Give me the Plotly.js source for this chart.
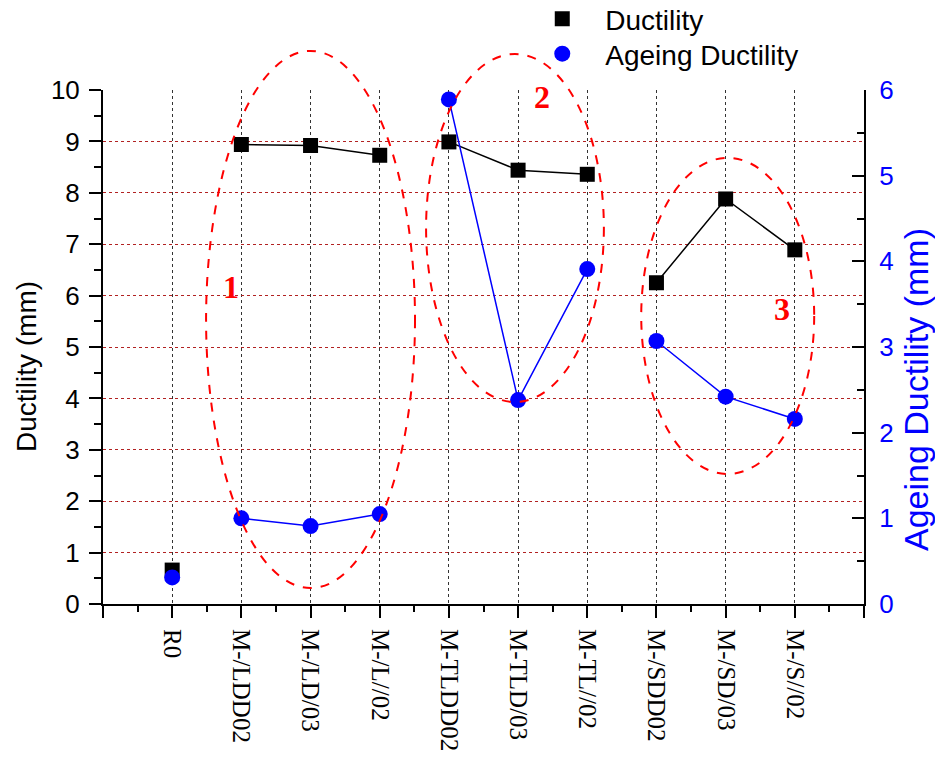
<!DOCTYPE html>
<html>
<head>
<meta charset="utf-8">
<script src="https://cdn.plot.ly/plotly-3.0.1.min.js"></script>
<style>html,body{margin:0;padding:0;background:#fff;} #chart{width:935px;height:757px;}</style>
</head>
<body>
<div id="chart"></div>
<script>
// ---- data ----
const categories = ['R0','M-/LDD02','M-/LD/03','M-/L//02','M-TLDD02','M-TLD/03','M-TL//02','M-/SDD02','M-/SD/03','M-/S//02'];
const groups = [0, 1, 1, 1, 2, 2, 2, 3, 3, 3];   // points joined by a line only inside the same group
const ductility = [0.66, 8.94, 8.92, 8.73, 8.99, 8.44, 8.36, 6.25, 7.88, 6.89];
const ageingDuctility = [0.31, 1.00, 0.91, 1.05, 5.89, 2.38, 3.91, 3.07, 2.42, 2.16];
const seriesNames = ['Ductility', 'Ageing Ductility'];
const leftTitle = 'Ductility (mm)';
const rightTitle = 'Ageing Ductility (mm)';
const leftTicks = [0,1,2,3,4,5,6,7,8,9,10];
const rightTicks = [0,1,2,3,4,5,6];
const leftRange = [0, 10];
const rightRange = [0, 6];
// group ellipses (x in category index units, y in Ductility units)
const groupLabels = ['1', '2', '3'];
const groupLabelPos = [[0.85, 6.17], [5.34, 9.87], [8.81, 5.74]];
const groupEllipses = [[0.49, 3.51, 0.31, 10.76], [3.67, 6.24, 3.93, 10.70], [6.78, 9.28, 2.53, 8.68]];

const xIdx = categories.map((c, i) => i);
const xTickVals = [-1].concat(xIdx, [categories.length]);
const xTickText = [''].concat(categories, ['']);

// insert a gap (null) wherever the group changes
function withBreaks(vals) {
  const xs = [], ys = [];
  vals.forEach((v, i) => {
    if (i > 0 && groups[i] !== groups[i - 1]) { xs.push(null); ys.push(null); }
    xs.push(xIdx[i]); ys.push(v);
  });
  return {x: xs, y: ys};
}
// trailing non-breaking spaces nudge a centred axis title along its axis
const pad = n => '&nbsp;'.repeat(n);

const sans = 'Liberation Sans, Arial, sans-serif';
const serif = 'Liberation Serif, Times New Roman, serif';

const dLine = withBreaks(ductility);
const aLine = withBreaks(ageingDuctility);

const traces = [
  {x: dLine.x, y: dLine.y, type: 'scatter', mode: 'lines', connectgaps: false,
   line: {color: '#000000', width: 1.5}, showlegend: false, yaxis: 'y'},
  {x: xIdx, y: ductility, name: seriesNames[0], type: 'scatter', mode: 'markers',
   marker: {symbol: 'square', size: 15, color: '#000000'}, yaxis: 'y', legend: 'legend'},
  {x: aLine.x, y: aLine.y, type: 'scatter', mode: 'lines', connectgaps: false,
   line: {color: '#0000ff', width: 1.5}, showlegend: false, yaxis: 'y2'},
  {x: xIdx, y: ageingDuctility, name: seriesNames[1], type: 'scatter', mode: 'markers',
   marker: {symbol: 'circle', size: 16, color: '#0000ff'}, yaxis: 'y2', legend: 'legend2'}
];

const shapes = groupEllipses.map(e => ({
  type: 'circle', xref: 'x', yref: 'paper',
  x0: e[0], x1: e[1], y0: e[2] / leftRange[1], y1: e[3] / leftRange[1],
  line: {color: '#ff0000', width: 2, dash: 'dash'},
  fillcolor: 'rgba(0,0,0,0)', layer: 'above'
}));

const annotations = groupLabels.map((t, i) => ({
  x: groupLabelPos[i][0], y: groupLabelPos[i][1], xref: 'x', yref: 'y',
  text: '<b>' + t + '</b>', showarrow: false,
  font: {family: serif, size: 32, color: '#ff0000'}
}));

const legendBase = {
  xanchor: 'left', yanchor: 'middle',
  font: {family: sans, size: 28, color: '#000'},
  bgcolor: 'rgba(0,0,0,0)', borderwidth: 0, itemwidth: 76
};

const layout = {
  width: 935, height: 757,
  margin: {l: 103, r: 71, t: 90, b: 153, pad: 0, autoexpand: false},
  paper_bgcolor: '#ffffff', plot_bgcolor: '#ffffff',
  showlegend: true,
  legend: Object.assign({}, legendBase, {x: 0.547, y: (604 - 19) / 514}),
  legend2: Object.assign({}, legendBase, {x: 0.547, y: (604 - 54) / 514}),
  xaxis: {
    range: [-1, categories.length],
    tickmode: 'array', tickvals: xTickVals, ticktext: xTickText,
    tickangle: 90,
    tickfont: {family: serif, size: 25, color: '#000'},
    ticks: 'outside', ticklen: 12, tickwidth: 2, tickcolor: '#000',
    ticklabelstandoff: 6,
    minor: {tickmode: 'linear', tick0: -0.5, dtick: 1, ticks: 'outside', ticklen: 6, tickwidth: 2, tickcolor: '#000', showgrid: false},
    showline: true, linecolor: '#000', linewidth: 2,
    showgrid: true, gridcolor: '#333333', griddash: 'dot', gridwidth: 1,
    zeroline: false, fixedrange: true
  },
  yaxis: {
    range: leftRange,
    tickmode: 'array', tickvals: leftTicks,
    tickfont: {family: sans, size: 26, color: '#000'},
    ticks: 'outside', ticklen: 12, tickwidth: 2, tickcolor: '#000',
    ticklabelstandoff: 4,
    minor: {tickmode: 'linear', tick0: 0.5, dtick: 1, ticks: 'outside', ticklen: 7, tickwidth: 2, tickcolor: '#000', showgrid: false},
    showline: true, linecolor: '#000', linewidth: 2,
    showgrid: true, gridcolor: '#b22222', griddash: 'dot', gridwidth: 1,
    zeroline: false,
    title: {text: leftTitle + pad(5), font: {family: sans, size: 28, color: '#000'}, standoff: 6}
  },
  yaxis2: {
    range: rightRange, overlaying: 'y', side: 'right', anchor: 'x',
    tickmode: 'array', tickvals: rightTicks,
    tickfont: {family: sans, size: 26, color: '#0000ff'},
    ticks: 'inside', ticklen: 12, tickwidth: 2, tickcolor: '#000',
    ticklabelstandoff: 8,
    minor: {tickmode: 'linear', tick0: 0.5, dtick: 1, ticks: 'inside', ticklen: 7, tickwidth: 2, tickcolor: '#000', showgrid: false},
    showline: true, linecolor: '#000', linewidth: 2,
    showgrid: false, zeroline: false,
    title: {text: rightTitle + pad(9), font: {family: sans, size: 34, color: '#0000ff'}, standoff: 14}
  },
  shapes: shapes,
  annotations: annotations
};

Plotly.newPlot('chart', traces, layout, {displayModeBar: false, staticPlot: true});
</script>
</body>
</html>
